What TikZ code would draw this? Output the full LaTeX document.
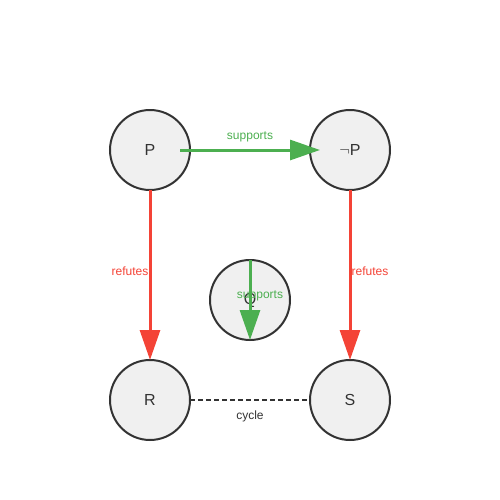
\documentclass[tikz,border=0pt]{standalone}
\usepackage{fontspec}
\setmainfont{Liberation Sans}
\usetikzlibrary{arrows.meta,positioning,calc}

\definecolor{supportgreen}{HTML}{4CAF50}
\definecolor{refutered}{HTML}{F44336}
\definecolor{propfill}{HTML}{F0F0F0}
\definecolor{propdark}{HTML}{333333}

\tikzset{
  prop/.style={draw=propdark,fill=propfill,circle,line width=1.5pt,minimum size=60pt,
    inner sep=0pt,outer sep=0pt,text=propdark,font=\fontsize{12}{14}\selectfont},
  supports/.style={-{Triangle[length=22.5pt,width=15pt]},supportgreen,line width=2.25pt},
  refutes/.style={-{Triangle[length=22.5pt,width=15pt]},refutered,line width=2.25pt},
  lbl/.style={font=\fontsize{9}{11}\selectfont,inner sep=0pt}
}

\begin{document}
\begin{tikzpicture}[x=0.75pt,y=-0.75pt]
      \useasboundingbox (0,0) rectangle (500,500);

      \node[prop] (p) at (150,150) {P};
      \node[prop,right = 90pt of p] (np) {$\neg$P};
      \node[prop,below = 127.5pt of p] (r) {R};
      \node[prop,below = 127.5pt of np] (s) {S};
      \node[prop] (q) at (250,300) {Q};

      \draw[supports,shorten <=22.5pt,shorten >=22.5pt] (p.center) -- (np.center)
        node[lbl,midway,yshift=9.5pt,text=supportgreen] (l0) {supports};

      \draw[refutes] (p) -- (r)
        node[lbl,midway,xshift=-15pt,yshift=3pt,text=refutered] (l1) {refutes};
      \draw[refutes] (np) -- (s)
        node[lbl,midway,xshift=15pt,yshift=3pt,text=refutered] (l2) {refutes};

      \draw[supports] (q.north) -- (q.south)
        node[lbl,midway,xshift=7.5pt,yshift=3pt,text=supportgreen] (l3) {supports};

      \draw[propdark,line width=1.5pt,dash pattern=on 3.75pt off 2.25pt] (r) -- (s)
        node[lbl,midway,yshift=-12pt,text=propdark] (l4) {cycle};

    \end{tikzpicture}
\end{document}
